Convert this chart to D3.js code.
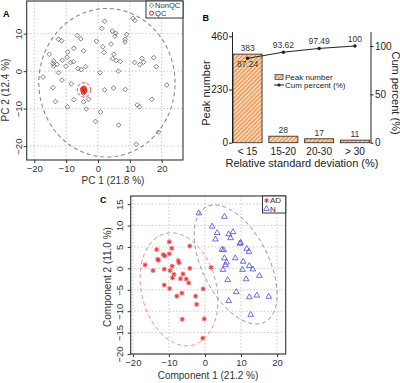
<!DOCTYPE html>
<html>
<head>
<meta charset="utf-8">
<script src="https://cdn.jsdelivr.net/npm/d3@7"></script>
<style>
  body { margin: 0; background: #fff; }
  text { font-family: "Liberation Sans", Arial, sans-serif; }
</style>
</head>
<body>
<svg id="fig" width="400" height="383"></svg>
<script>
// ---- panel A : PCA scores, NonQC vs QC ----
let nonQC = [[11.0,14.1],[11.6,13.5],[2.1,13.3],[1.2,11.4],[4.5,10.7],[5.5,10.1],[9.0,9.8],[5.3,9.3],
  [-6.5,9.5],[-5.4,8.6],[-12.4,8.5],[-11.4,8.1],[-0.5,8.0],[8.5,8.5],[8.5,7.8],[4.1,7.2],[1.5,6.5],
  [-7.6,6.1],[-4.5,5.4],[1.9,5.0],[-9.5,5.1],[5.0,4.5],[-15.3,4.5],[4.6,3.3],[5.7,2.8],[7.0,2.6],
  [-13.9,2.7],[-12.9,1.8],[-14.1,2.0],[-13.9,1.4],[-11.2,2.9],[-9.7,3.7],[-8.6,2.3],[-7.7,2.5],
  [-10.1,1.3],[-6.3,0.7],[-5.3,0.4],[-3.9,1.2],[-12.4,-0.4],[0.6,-0.4],[6.4,0.0],[11.5,2.3],
  [13.8,3.4],[14.3,2.4],[13.1,1.7],[17.5,3.6],[18.3,1.2],[-17.3,-1.6],[-11.3,-2.4],[-8.4,-3.4],
  [-14.1,-4.4],[2.1,-5.0],[4.9,-4.5],[8.6,-4.9],[21.6,-3.7],[-13.4,-8.1],[-7.6,-7.6],[-4.5,-8.2],
  [-2.9,-7.5],[-9.6,-9.5],[-3.7,-10.1],[0.8,-10.9],[12.3,-9.0],[13.1,-9.5],[16.9,-7.5],[-0.8,-13.4],
  [6.5,-14.4],[19.0,-16.3],[12.0,-19.5]];
let qc = [[-4.6,-4.6],[-4.2,-5.0],[-4.8,-5.2],[-4.4,-5.5],[-4.9,-4.8],[-4.3,-4.5],[-4.6,-5.8],[-4.1,-5.3]];
// ellipse: centre, half extents, correlation
let pcaEllipse = [2.8, -3.1, 21.4, 19.8, 0];
let qcEllipse = [-4.4, -5.0, 2.1, 1.9, 0];
let pcTicksX = [-20,-10,0,10,20];
let pcTicksY = [-20,-10,0,10];

// ---- panel B : RSD distribution ----
let rsdBins = ["< 15","15-20","20-30","> 30"];
let peakNumber = [383,28,17,11];
let cumPercent = [87.24,93.62,97.49,100];
let peakTicks = [0,230,460];
let cumTicks = [0,50,100];

// ---- panel C : PLS-DA, AD vs N ----
let adPoints = [[-9.9,6.2],[-9.2,4.7],[-13.4,4.4],[-4.2,5.2],[-11.6,3.2],[-11.1,2.9],[-9.9,3.4],
  [-12.9,1.9],[-13.1,2.1],[-7.4,1.8],[-7.2,1.3],[-16.6,0.8],[-9.1,0.5],[-11.3,-0.2],[-14.4,-0.5],
  [-9.7,-0.5],[-4.2,0.0],[-8.6,-1.4],[-9.0,-2.2],[-6.1,-1.3],[-6.8,-2.4],[-5.2,-2.5],[-4.5,-3.4],
  [1.7,0.2],[-11.3,-3.9],[-9.8,-4.7],[-0.5,-4.8],[-7.8,-6.5],[-6.4,-5.8],[-2.6,-6.5],[-2.3,-8.4],
  [-6.3,-11.9],[-0.2,-11.8],[-0.6,-16.3]];
let nPoints = [[-1.7,13.0],[5.4,12.2],[2.0,9.9],[3.4,8.4],[6.6,8.1],[7.8,8.6],[7.1,7.2],[2.9,6.9],
  [9.7,5.9],[9.9,6.1],[4.7,4.5],[5.2,4.4],[11.6,4.7],[12.2,4.0],[5.4,2.5],[8.4,2.5],[10.6,1.7],
  [6.0,1.5],[5.7,0.9],[12.3,0.7],[13.3,-0.1],[5.0,-0.2],[10.4,-0.2],[15.1,-1.6],[11.4,-2.4],
  [6.3,-2.6],[8.7,-5.4],[12.3,-6.6],[14.4,-6.2],[17.7,-6.5],[6.6,-7.5],[12.7,-10.7]];
let adEllipse = [-7.2, -4.9, 10.8, 13.2, -0.2];
let nEllipse = [8.5, 0.9, 11.5, 13.9, -0.5];
let compTicksX = [-20,-10,0,10,20];
let compTicksY = [-20,-15,-10,-5,0,5,10,15];

let svg = d3.select("#fig");
let font = '"Liberation Sans", Arial, sans-serif';

function ellipsePath(e, x, y) {
  let phi = Math.acos(e[4]);
  let pts = d3.range(0, 2 * Math.PI, Math.PI / 90).map(t => [e[0] + e[2] * Math.cos(t), e[1] + e[3] * Math.cos(t - phi)]);
  return d3.line().x(d => x(d[0])).y(d => y(d[1])).curve(d3.curveLinearClosed)(pts);
}

// scatter frame with grid, ticks, rotated y labels (R style)
function scatterFrame(g, x, y, tx, ty, labY) {
  let [x0, x1] = x.range(), [y0, y1] = y.range();
  g.selectAll(".gx").data(tx).enter().append("line")
    .attr("x1", d => x(d)).attr("x2", d => x(d)).attr("y1", y1).attr("y2", y0)
    .attr("stroke", "#c8c8c8").attr("stroke-dasharray", "1.5,2");
  g.selectAll(".gy").data(ty).enter().append("line")
    .attr("y1", d => y(d)).attr("y2", d => y(d)).attr("x1", x0).attr("x2", x1)
    .attr("stroke", "#c8c8c8").attr("stroke-dasharray", "1.5,2");
  let ax = g.append("g").attr("transform", `translate(0,${y0})`)
    .call(d3.axisBottom(x).tickValues(tx).tickSize(3).tickPadding(2).tickFormat(d3.format("d")));
  let ay = g.append("g").attr("transform", `translate(${x0},0)`)
    .call(d3.axisLeft(y).tickValues(ty).tickSize(3).tickFormat(d3.format("d")));
  [ax, ay].forEach(a => {
    a.select(".domain").remove();
    a.selectAll("text").attr("font-family", font).attr("font-size", 9.5).attr("fill", "#333");
    a.selectAll("line").attr("stroke", "#333");
  });
  ay.selectAll("text").attr("transform", "rotate(-90)").attr("x", 0).attr("y", -labY)
    .attr("dy", 0).attr("text-anchor", "middle");
  g.append("rect").attr("x", x0).attr("y", y1).attr("width", x1 - x0).attr("height", y0 - y1)
    .attr("fill", "none").attr("stroke", "#333").attr("stroke-width", 1.1);
}

// ================= A =================
let xA = d3.scaleLinear().domain([-22.4, 26.7]).range([26.7, 183]);
let yA = d3.scaleLinear().domain([-23.7, 18.7]).range([160, 1]);
let gA = svg.append("g");
scatterFrame(gA, xA, yA, pcTicksX, pcTicksY, 5);
gA.append("path").attr("d", ellipsePath(pcaEllipse, xA, yA))
  .attr("fill", "none").attr("stroke", "#8a8a8a").attr("stroke-width", 1.1).attr("stroke-dasharray", "4,3");
let diamond = d3.symbol().type(d3.symbolSquare).size(11);
gA.selectAll(".nq").data(nonQC).enter().append("path")
  .attr("d", diamond)
  .attr("transform", d => `translate(${xA(d[0])},${yA(d[1])}) rotate(45)`)
  .attr("fill", "none").attr("stroke", "#6b6b6b").attr("stroke-width", 0.8);
gA.selectAll(".qc").data(qc).enter().append("circle")
  .attr("cx", d => xA(d[0])).attr("cy", d => yA(d[1])).attr("r", 2)
  .attr("fill", "none").attr("stroke", "#e02020").attr("stroke-width", 0.9);
gA.append("path").attr("d", ellipsePath(qcEllipse, xA, yA))
  .attr("fill", "none").attr("stroke", "#e02020").attr("stroke-width", 1).attr("stroke-dasharray", "3,2");
// legend A
gA.append("rect").attr("x", 146).attr("y", 1).attr("width", 37).attr("height", 17)
  .attr("fill", "#fff").attr("stroke", "#333").attr("stroke-width", 1);
gA.append("path").attr("d", diamond).attr("transform", "translate(151.5,5.3) rotate(45)")
  .attr("fill", "none").attr("stroke", "#6b6b6b").attr("stroke-width", 0.8);
gA.append("circle").attr("cx", 151.5).attr("cy", 13.2).attr("r", 2)
  .attr("fill", "none").attr("stroke", "#e02020").attr("stroke-width", 1);
gA.append("text").attr("x", 155).attr("y", 8.2).attr("font-size", 7.6).attr("fill", "#333").text("NonQC");
gA.append("text").attr("x", 155).attr("y", 16.2).attr("font-size", 7.6).attr("fill", "#333").text("QC");
gA.append("text").attr("x", 113).attr("y", 184).attr("text-anchor", "middle").attr("font-size", 10)
  .attr("fill", "#333").text("PC 1 (21.8 %)");
gA.append("text").attr("transform", "translate(9,90) rotate(-90)").attr("text-anchor", "middle")
  .attr("font-size", 10).attr("fill", "#333").text("PC 2 (12.4 %)");
svg.append("text").attr("x", 3).attr("y", 16.5).attr("font-size", 9).attr("font-weight", "bold").text("A");

// ================= B =================
let xB = d3.scaleBand().domain(rsdBins).range([232, 370.5]).paddingInner(0.19).paddingOuter(0.03);
let yL = d3.scaleLinear().domain([0, 480]).range([142.7, 31.7]);
let yR = d3.scaleLinear().domain([0, 114.8]).range([142.7, 31.7]);
let gB = svg.append("g");
let defs = svg.append("defs");
let pat = defs.append("pattern").attr("id", "hatch").attr("patternUnits", "userSpaceOnUse")
  .attr("width", 3).attr("height", 3).attr("patternTransform", "rotate(45)");
pat.append("rect").attr("width", 3).attr("height", 3).attr("fill", "#fbe0c4");
pat.append("line").attr("x1", 0.7).attr("x2", 0.7).attr("y1", 0).attr("y2", 3)
  .attr("stroke", "#e8843a").attr("stroke-width", 1.2);

gB.selectAll(".bar").data(peakNumber).enter().append("rect")
  .attr("x", (d, i) => xB(rsdBins[i])).attr("y", d => yL(d))
  .attr("width", xB.bandwidth()).attr("height", d => yL(0) - yL(d))
  .attr("fill", "url(#hatch)").attr("stroke", "#333").attr("stroke-width", 0.9);
gB.selectAll(".bl").data(peakNumber).enter().append("text")
  .attr("x", (d, i) => xB(rsdBins[i]) + xB.bandwidth() / 2).attr("y", d => yL(d) - 3)
  .attr("text-anchor", "middle").attr("font-size", 8.5).attr("fill", "#333").text(d => d);
let cumLine = d3.line().x((d, i) => xB(rsdBins[i]) + xB.bandwidth() / 2).y(d => yR(d));
gB.append("path").attr("d", cumLine(cumPercent)).attr("fill", "none").attr("stroke", "#222").attr("stroke-width", 1);
gB.selectAll(".pt").data(cumPercent).enter().append("circle")
  .attr("cx", (d, i) => xB(rsdBins[i]) + xB.bandwidth() / 2).attr("cy", d => yR(d)).attr("r", 1.8)
  .attr("fill", "#222");
gB.selectAll(".cl").data(cumPercent).enter().append("text")
  .attr("x", (d, i) => xB(rsdBins[i]) + xB.bandwidth() / 2)
  .attr("y", (d, i) => i == 0 ? yR(d) + 9 : yR(d) - 4)
  .attr("text-anchor", "middle").attr("font-size", 8.5).attr("fill", "#333").text(d => d);

let axL = gB.append("g").attr("transform", "translate(232,0)")
  .call(d3.axisLeft(yL).tickValues(peakTicks).tickSize(3).tickPadding(1).tickSizeOuter(0));
let axR = gB.append("g").attr("transform", "translate(370.5,0)")
  .call(d3.axisRight(yR).tickValues(cumTicks).tickSize(3).tickPadding(1.5).tickSizeOuter(0));
let axX = gB.append("g").attr("transform", "translate(0,142.7)")
  .call(d3.axisBottom(xB).tickSize(0).tickPadding(5));
axX.select(".domain").remove();
[axL, axR, axX].forEach(a => {
  a.selectAll("text").attr("font-family", font).attr("font-size", 10).attr("fill", "#222");
  a.selectAll("line, path").attr("stroke", "#222");
});
gB.append("text").attr("x", 302).attr("y", 167).attr("text-anchor", "middle").attr("font-size", 11)
  .attr("fill", "#222").text("Relative standard deviation (%)");
gB.append("text").attr("transform", "translate(210,93) rotate(-90)").attr("text-anchor", "middle")
  .attr("font-size", 11).attr("fill", "#222").text("Peak number");
gB.append("text").attr("transform", "translate(391.5,93) rotate(90)").attr("text-anchor", "middle")
  .attr("font-size", 11).attr("fill", "#222").text("Cum percent (%)");
// legend B
gB.append("rect").attr("x", 275).attr("y", 74.5).attr("width", 8).attr("height", 5)
  .attr("fill", "url(#hatch)").attr("stroke", "#333").attr("stroke-width", 0.7);
gB.append("line").attr("x1", 274).attr("x2", 284).attr("y1", 85).attr("y2", 85).attr("stroke", "#222");
gB.append("circle").attr("cx", 279).attr("cy", 85).attr("r", 1.6).attr("fill", "#222");
gB.append("text").attr("x", 285).attr("y", 80).attr("font-size", 8).attr("fill", "#222").text("Peak number");
gB.append("text").attr("x", 285).attr("y", 88.3).attr("font-size", 8).attr("fill", "#222").text("Cum percent (%)");
svg.append("text").attr("x", 202.5).attr("y", 20.5).attr("font-size", 9).attr("font-weight", "bold").text("B");

// ================= C =================
let xC = d3.scaleLinear().domain([-20.6, 22.4]).range([130.7, 285.7]);
let yC = d3.scaleLinear().domain([-20, 16.9]).range([354, 196]);
let gC = svg.append("g");
scatterFrame(gC, xC, yC, compTicksX, compTicksY, 8);
gC.append("path").attr("d", ellipsePath(adEllipse, xC, yC))
  .attr("fill", "none").attr("stroke", "#e48a8a").attr("stroke-width", 1).attr("stroke-dasharray", "4,3");
gC.append("path").attr("d", ellipsePath(nEllipse, xC, yC))
  .attr("fill", "none").attr("stroke", "#8a86dc").attr("stroke-width", 1).attr("stroke-dasharray", "4,3");
let star = d3.symbol().type(d3.symbolAsterisk).size(12);
let tri = d3.symbol().type(d3.symbolTriangle).size(14);
gC.selectAll(".adh").data(adPoints).enter().append("circle")
  .attr("cx", d => xC(d[0])).attr("cy", d => yC(d[1])).attr("r", 2.6).attr("fill", "#f6b8b8");
gC.selectAll(".ad").data(adPoints).enter().append("path").attr("d", star)
  .attr("transform", d => `translate(${xC(d[0])},${yC(d[1])})`)
  .attr("fill", "none").attr("stroke", "#e8323a").attr("stroke-width", 1);
gC.selectAll(".n").data(nPoints).enter().append("path").attr("d", tri)
  .attr("transform", d => `translate(${xC(d[0])},${yC(d[1]) + 0.5})`)
  .attr("fill", "none").attr("stroke", "#4a4ad8").attr("stroke-width", 0.8);
// legend C
gC.append("rect").attr("x", 262.5).attr("y", 196).attr("width", 23.2).attr("height", 17)
  .attr("fill", "#fff").attr("stroke", "#333").attr("stroke-width", 1);
gC.append("circle").attr("cx", 266.5).attr("cy", 200.5).attr("r", 2.2).attr("fill", "#f6b8b8");
gC.append("path").attr("d", star).attr("transform", "translate(266.5,200.5)")
  .attr("fill", "none").attr("stroke", "#e8323a").attr("stroke-width", 1);
gC.append("path").attr("d", tri).attr("transform", "translate(266.5,208.8)")
  .attr("fill", "none").attr("stroke", "#4a4ad8").attr("stroke-width", 0.8);
gC.append("text").attr("x", 270).attr("y", 203.3).attr("font-size", 8).attr("fill", "#333").text("AD");
gC.append("text").attr("x", 270).attr("y", 211.5).attr("font-size", 8).attr("fill", "#333").text("N");
gC.append("text").attr("x", 208).attr("y", 379).attr("text-anchor", "middle").attr("font-size", 10)
  .attr("fill", "#333").text("Component 1 (21.2 %)");
gC.append("text").attr("transform", "translate(110.5,277) rotate(-90)").attr("text-anchor", "middle")
  .attr("font-size", 10).attr("fill", "#333").text("Component 2 (11.0 %)");
svg.append("text").attr("x", 100).attr("y", 203).attr("font-size", 9).attr("font-weight", "bold").text("C");
</script>
</body>
</html>
